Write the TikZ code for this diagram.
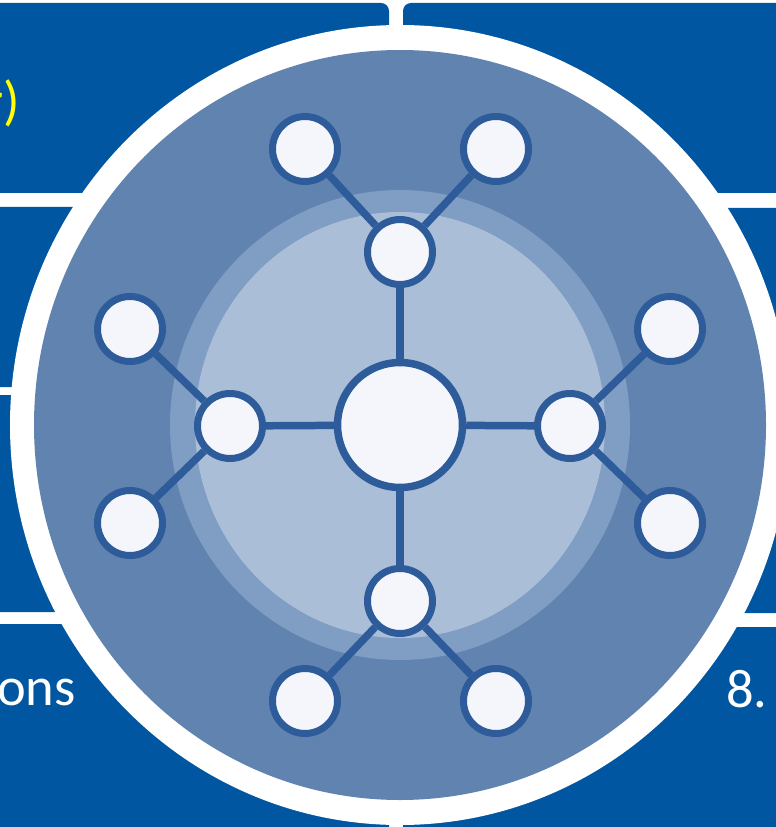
\documentclass[tikz,border=0pt]{standalone}
\usepackage{fontspec}
\setmainfont{Carlito}
\usetikzlibrary{positioning}
\definecolor{panelblue}{RGB}{0,86,160}
\definecolor{discblue}{RGB}{97,131,176}
\definecolor{bandblue}{RGB}{128,157,196}
\definecolor{coreblue}{RGB}{171,190,216}
\definecolor{linkblue}{RGB}{46,92,154}
\definecolor{nodewhite}{RGB}{244,246,251}
\definecolor{signyellow}{RGB}{255,255,0}

\begin{document}
\begin{tikzpicture}[x=0.02cm, y=-0.02cm,
    panel/.style={fill=panelblue, rounded corners=0.16cm},
    slidetext/.style={font=\fontsize{31}{37}\selectfont, inner sep=0pt},
    hub/.style={circle, draw=linkblue, line width=0.15cm, fill=nodewhite, minimum size=2.5cm, inner sep=0pt},
    leaf/.style={circle, draw=linkblue, line width=0.14cm, fill=nodewhite, minimum size=1.3cm, inner sep=0pt},
    link/.style={draw=linkblue, line width=0.15cm}]
    \useasboundingbox (0,0) rectangle (776,827);
    \clip (0,0) rectangle (776,827);

    % panels behind the disc
    \fill[panel] (-30,3) rectangle (389,193);
    \fill[panel] (403,3) rectangle (810,193);
    \fill[panel] (-30,207) rectangle (389,387);
    \fill[panel] (-30,395) rectangle (389,612);
    \fill[panel] (403,208) rectangle (810,613);
    \fill[panel] (-30,624) rectangle (389,860);
    \fill[panel] (403,627) rectangle (810,860);

    \node[slidetext, text=signyellow, anchor=base east] (topleft) at (20,120) {r)};
    \node[slidetext, text=white, anchor=base east] (bottomleft) at (76,705) {ons};
    \node[slidetext, text=white, anchor=base west] (bottomright) at (726,707) {8.};

    % disc
    \fill[white] (400,425) ellipse (390 and 400);
    \fill[discblue] (400,425) ellipse (366 and 375);
    \fill[bandblue] (400,425) ellipse (230 and 235);
    \fill[coreblue] (400,425) ellipse (205 and 213);

    % network
    \node[hub] (hub) at (400,425) {};
    \node[leaf] (north) at (400,252) {};
    \node[leaf] (south) at (400,601) {};
    \node[leaf] (west) at (230,426) {};
    \node[leaf] (east) at (570,426) {};
    \node[leaf] (northleft) at (305,149) {};
    \node[leaf] (northright) at (496,149) {};
    \node[leaf] (southleft) at (305,701) {};
    \node[leaf] (southright) at (496,701) {};
    \node[leaf] (westup) at (130,329) {};
    \node[leaf] (westdown) at (130,523) {};
    \node[leaf] (eastup) at (670,329) {};
    \node[leaf] (eastdown) at (670,523) {};

    \draw[link] (hub) -- (north);
    \draw[link] (hub) -- (south);
    \draw[link] (hub) -- (west);
    \draw[link] (hub) -- (east);
    \draw[link] (north) -- (northleft);
    \draw[link] (north) -- (northright);
    \draw[link] (south) -- (southleft);
    \draw[link] (south) -- (southright);
    \draw[link] (west) -- (westup);
    \draw[link] (west) -- (westdown);
    \draw[link] (east) -- (eastup);
    \draw[link] (east) -- (eastdown);
\end{tikzpicture}
\end{document}
